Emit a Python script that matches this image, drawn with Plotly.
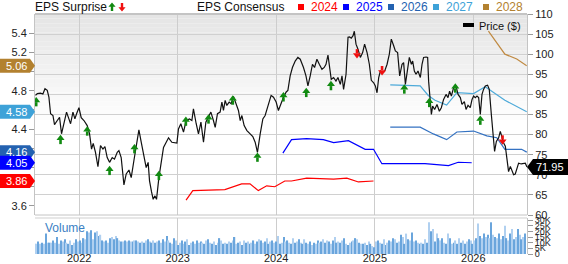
import numpy as np
import pandas as pd
import plotly.graph_objects as go

# ---------------- data ----------------
# price: time in decimal years, closing price in $
price_t = [2021.556, 2021.574, 2021.607, 2021.631, 2021.652, 2021.675, 2021.692, 2021.709, 2021.733, 2021.749,
           2021.777, 2021.800, 2021.820, 2021.845, 2021.871, 2021.895, 2021.912, 2021.936, 2021.956, 2021.973,
           2021.997, 2022.020, 2022.048, 2022.081, 2022.105, 2022.125, 2022.142, 2022.165, 2022.190, 2022.216,
           2022.241, 2022.261, 2022.284, 2022.308, 2022.335, 2022.358, 2022.386, 2022.403, 2022.426, 2022.454,
           2022.477, 2022.505, 2022.528, 2022.555, 2022.579, 2022.606, 2022.632, 2022.657, 2022.680, 2022.700,
           2022.714, 2022.734, 2022.751, 2022.769, 2022.785, 2022.809, 2022.827, 2022.856, 2022.907, 2022.941,
           2022.992, 2023.008, 2023.032, 2023.059, 2023.086, 2023.120, 2023.144, 2023.160, 2023.188, 2023.211,
           2023.236, 2023.262, 2023.286, 2023.313, 2023.337, 2023.363, 2023.381, 2023.404, 2023.431, 2023.449,
           2023.465, 2023.482, 2023.499, 2023.523, 2023.543, 2023.566, 2023.594, 2023.617, 2023.635, 2023.652,
           2023.675, 2023.703, 2023.736, 2023.763, 2023.787, 2023.810, 2023.838, 2023.865, 2023.888, 2023.922,
           2023.949, 2023.973, 2024.000, 2024.023, 2024.048, 2024.074, 2024.102, 2024.119, 2024.142, 2024.165,
           2024.193, 2024.220, 2024.244, 2024.277, 2024.302, 2024.322, 2024.345, 2024.368, 2024.389, 2024.413,
           2024.437, 2024.464, 2024.487, 2024.505, 2024.525, 2024.541, 2024.558, 2024.582, 2024.606, 2024.626,
           2024.650, 2024.667, 2024.683, 2024.708, 2024.728, 2024.744, 2024.761, 2024.779, 2024.792, 2024.809,
           2024.829, 2024.853, 2024.876, 2024.896, 2024.921, 2024.944, 2024.964, 2024.988, 2025.005, 2025.022,
           2025.039, 2025.056, 2025.079, 2025.099, 2025.124, 2025.147, 2025.167, 2025.191, 2025.208, 2025.231,
           2025.252, 2025.276, 2025.292, 2025.310, 2025.337, 2025.350, 2025.371, 2025.384, 2025.401, 2025.418,
           2025.438, 2025.462, 2025.479, 2025.495, 2025.520, 2025.536, 2025.546, 2025.563, 2025.574, 2025.587,
           2025.607, 2025.631, 2025.655, 2025.675, 2025.698, 2025.723, 2025.743, 2025.759, 2025.777, 2025.800,
           2025.824, 2025.845, 2025.868, 2025.885, 2025.909, 2025.926, 2025.946, 2025.969, 2025.987, 2026.003,
           2026.020, 2026.037, 2026.054, 2026.071, 2026.088, 2026.104, 2026.122, 2026.145, 2026.162, 2026.183,
           2026.200, 2026.216, 2026.234, 2026.257, 2026.274, 2026.291, 2026.308, 2026.325, 2026.342, 2026.358,
           2026.376, 2026.393, 2026.409, 2026.426, 2026.442, 2026.460, 2026.487, 2026.511, 2026.528, 2026.545]
price_v = [89.75, 90.2, 90.3, 90.1, 91.4, 91.0, 89.3, 85.2, 84.75, 82.5,
           83.5, 84.3, 80.2, 83.1, 85.6, 83.9, 82.7, 85.6, 83.9, 85.2,
           86.7, 84.2, 83.5, 82.25, 80.2, 76.4, 77.8, 75.6, 72.0, 77.25,
           76.4, 77.0, 74.3, 73.1, 74.3, 73.9, 75.6, 76.0, 74.3, 67.5,
           70.2, 71.2, 69.3, 73.5, 76.8, 81.2, 77.8, 74.3, 71.8, 73.1,
           68.5, 65.8, 63.9, 64.75, 63.9, 69.3, 72.0, 76.8, 79.2, 78.1,
           77.9, 81.4, 82.7, 80.6, 83.5, 83.9, 83.5, 86.4, 82.7, 80.2,
           83.1, 78.1, 83.1, 84.3, 85.6, 83.5, 81.8, 85.2, 85.6, 88.1,
           86.0, 88.5, 87.25, 88.1, 87.7, 89.5, 87.25, 86.0, 83.5, 84.75,
           82.25, 81.0, 80.2, 79.5, 78.1, 75.6, 80.2, 83.9, 84.75, 87.25,
           89.75, 89.3, 88.1, 86.0, 87.7, 89.3, 90.6, 91.0, 94.6, 96.7,
           98.3, 99.2, 98.75, 96.7, 94.6, 92.1, 94.6, 97.5, 96.7, 98.75,
           97.5, 96.25, 96.7, 97.5, 99.8, 97.1, 93.75, 94.2, 93.3, 94.2,
           92.5, 94.6, 91.25, 95.0, 104.2, 104.3, 104.0, 104.6, 105.7, 102.5,
           101.25, 99.2, 100.4, 102.5, 100.4, 97.5, 93.5, 92.9, 92.1, 90.4,
           94.2, 95.8, 95.4, 95.8, 97.5, 100.0, 103.75, 102.1, 100.8, 100.4,
           94.6, 97.5, 97.9, 92.5, 97.9, 99.2, 97.5, 98.3, 95.8, 95.0,
           95.8, 94.2, 97.5, 99.2, 99.3, 99.2, 93.3, 87.9, 85.0, 87.1,
           86.25, 87.5, 85.8, 86.7, 88.75, 90.0, 89.2, 90.8, 89.6, 91.7,
           92.1, 90.0, 89.2, 87.5, 88.2, 86.25, 87.3, 86.7, 88.75, 89.6,
           89.2, 89.6, 89.2, 85.0, 90.0, 91.25, 92.1, 92.3, 91.25, 85.0,
           80.0, 75.8, 78.3, 79.2, 80.8, 79.3, 77.9, 77.1, 74.2, 70.8,
           72.1, 70.8, 70.0, 70.2, 71.7, 72.9, 72.7, 72.9, 72.9, 71.95]

# EPS surprise arrows (decimal year, price level of the arrow)
surprise_pos_t = [2021.563, 2021.810, 2022.081, 2022.308, 2022.561, 2022.809, 2023.083, 2023.313, 2023.560,
                  2023.810, 2024.074, 2024.305, 2024.555, 2025.299, 2025.553, 2025.817, 2026.071]
surprise_pos_v = [88.1, 78.7, 80.8, 71.0, 76.4, 69.75, 83.25, 83.8, 88.5,
                  74.3, 89.3, 90.4, 92.1, 91.25, 87.9, 91.5, 83.5]
surprise_neg_t = [2024.819, 2025.073, 2026.297]
surprise_neg_v = [100.2, 96.0, 78.75]

# EPS consensus by fiscal year
cons_2024_d = ["2023-02-01", "2023-02-26", "2023-06-25", "2023-07-26", "2023-08-26", "2023-09-26", "2023-10-27",
               "2023-11-27", "2023-12-27", "2024-02-02", "2024-02-27", "2024-04-23", "2024-07-01", "2024-08-01",
               "2024-09-19", "2024-11-01", "2024-12-27"]
cons_2024_v = [3.66, 3.76, 3.77, 3.80, 3.83, 3.83, 3.76, 3.81, 3.80, 3.86, 3.86, 3.89, 3.88, 3.88, 3.89, 3.85, 3.86]
cons_2025_d = ["2024-01-26", "2024-02-27", "2024-04-23", "2024-06-24", "2024-08-01", "2024-09-25", "2024-11-26",
               "2024-12-27", "2025-01-27", "2025-04-23", "2025-07-06", "2025-10-01", "2025-11-06", "2025-12-26"]
cons_2025_v = [4.15, 4.29, 4.30, 4.29, 4.26, 4.28, 4.19, 4.19, 4.04, 4.04, 4.04, 4.02, 4.055, 4.05]
cons_2026_d = ["2025-02-27", "2025-06-18", "2025-08-06", "2025-09-24", "2025-11-01", "2026-01-02", "2026-02-20",
               "2026-03-29", "2026-04-28", "2026-06-29", "2026-07-18"]
cons_2026_v = [4.42, 4.42, 4.35, 4.29, 4.37, 4.38, 4.33, 4.31, 4.19, 4.19, 4.16]
cons_2027_d = ["2025-02-27", "2025-06-18", "2025-07-18", "2025-08-12", "2025-09-24", "2025-11-01", "2026-01-02",
               "2026-02-14", "2026-04-28", "2026-06-11", "2026-07-18"]
cons_2027_v = [4.86, 4.85, 4.75, 4.70, 4.65, 4.78, 4.77, 4.84, 4.70, 4.63, 4.58]
cons_2028_d = ["2026-02-26", "2026-04-28", "2026-06-11", "2026-07-18"]
cons_2028_v = [5.42, 5.18, 5.13, 5.06]

# weekly volume (thousands of shares), first week starting 2021-07-19
volume_start = "2021-07-19"
volume_k = [10, 9, 11, 9, 10, 9, 18, 10, 10, 10, 12, 10, 15, 9, 12, 11, 13, 10, 9, 12, 8, 10, 13, 11,
            12, 10, 14, 13, 20, 19, 21, 13, 19, 20, 16, 17, 12,
            11, 12, 10, 14, 15, 13, 16, 14, 12, 11, 11, 12, 11,
            12, 11, 11, 12, 12, 11, 10, 11, 10, 12, 13, 11, 10,
            12, 10, 11, 12, 10, 13, 11, 16, 12, 10, 9, 14, 12,
            8, 10, 12, 9, 11, 13, 8, 10, 11, 9, 12, 10, 11,
            10, 9, 12, 13, 10, 9, 11, 8, 10, 14, 12, 9, 10,
            9, 11, 10, 12, 15, 9, 10, 11, 8, 12, 10, 11, 9,
            10, 12, 9, 11, 13, 12, 10, 11, 14, 9, 11, 12, 10,
            11, 16, 9, 10, 15, 11, 12, 10, 9, 14, 10, 11, 13,
            10, 9, 13, 10, 9, 11, 8, 10, 9, 12, 10, 11, 13,
            10, 12, 11, 9, 12, 15, 10, 11, 10, 12, 14, 9, 8,
            10, 11, 12, 14, 13, 10, 9, 9, 10, 8, 11, 9, 7,
            6, 11, 12, 10, 9, 13, 8, 10, 12, 11, 14, 13, 10,
            11, 17, 15, 9, 18, 13, 12, 19, 11, 12, 10, 9, 10,
            9, 13, 10, 28, 20, 22, 11, 18, 14, 12, 14, 10, 9,
            18, 14, 9, 10, 12, 9, 14, 10, 12, 9, 11, 13, 12,
            9, 12, 14, 27, 16, 14, 18, 15, 17, 14, 28, 17, 15,
            14, 18, 13, 16, 25, 14, 12, 18, 22, 13, 15, 22, 17,
            13, 15, 18]

year_ticks = ["2022-01-01", "2023-01-01", "2024-01-01", "2025-01-01", "2026-01-01"]
vol_tickvals = [0, 5, 10, 15, 20, 25, 30]
vol_ticktext = ["0", "5K", "10K", "15K", "20K", "25K", "30K"]
eps_tickvals = [3.6, 3.8, 4.0, 4.2, 4.4, 4.6, 4.8, 5.0, 5.2, 5.4]

# ---------------- helpers ----------------
def to_date(t):
    y = int(np.floor(t))
    s = pd.Timestamp(y, 1, 1)
    e = pd.Timestamp(y + 1, 1, 1)
    return s + (e - s) * (t - y)

W, H = 568, 264
ML, MR, MT, MB = 35, 41, 14, 10
PW = W - ML - MR
PH = H - MT - MB
MAIN_BOTTOM_PX = 215
VOL_TOP_PX = 218
main_dom = [(H - MB - MAIN_BOTTOM_PX) / PH, 1]
vol_dom = [0, (H - MB - VOL_TOP_PX) / PH]
price_range = [60, 110]
eps_range = [3.506, 5.598]
px_per_dollar = (MAIN_BOTTOM_PX - MT) / (price_range[1] - price_range[0])
px_per_eps = (MAIN_BOTTOM_PX - MT) / (eps_range[1] - eps_range[0])

FONT = "Arial, Liberation Sans, sans-serif"
C2024, C2025, C2026, C2027, C2028 = "#ff0000", "#0000ff", "#2462b0", "#3ea2d8", "#b3812f"
LINE2026, LINE2027, LINE2028 = "#3472c2", "#4eaad9", "#c08a42"
GREEN, RED = "#118a11", "#f01010"

tag_series = [(cons_2028_v, C2028), (cons_2027_v, C2027), (cons_2026_v, C2026),
              (cons_2025_v, C2025), (cons_2024_v, C2024)]
# tick labels that sit under a value tag are hidden, like in the reference
eps_ticktext = []
for tv in eps_tickvals:
    covered = any(abs(tv - s[-1]) * px_per_eps < 8 for s, _ in tag_series)
    eps_ticktext.append("" if covered else f"{tv:.1f}")

fig = go.Figure()

# volume bars
vol_dates = pd.date_range(volume_start, periods=len(volume_k), freq="7D")
vol_colors = ["#b0d0f0" if i % 2 else "#6aa5dc" for i in range(len(volume_k))]
fig.add_trace(go.Bar(x=vol_dates, y=volume_k, marker=dict(color=vol_colors, line=dict(width=0)),
                     xaxis="x", yaxis="y3", hoverinfo="skip", showlegend=False))

# consensus lines (left EPS axis)
for d, v, c in [(cons_2024_d, cons_2024_v, C2024), (cons_2025_d, cons_2025_v, C2025),
                (cons_2026_d, cons_2026_v, LINE2026), (cons_2027_d, cons_2027_v, LINE2027),
                (cons_2028_d, cons_2028_v, LINE2028)]:
    fig.add_trace(go.Scatter(x=d, y=v, mode="lines", line=dict(color=c, width=1.2),
                             xaxis="x", yaxis="y", showlegend=False, hoverinfo="skip"))

# price line (right axis)
price_dates = [to_date(t) for t in price_t]
fig.add_trace(go.Scatter(x=price_dates, y=price_v, mode="lines", line=dict(color="#111111", width=1.2),
                         xaxis="x", yaxis="y2", showlegend=False))

# surprise arrows: head + stem
pos_d = [to_date(t) for t in surprise_pos_t]
neg_d = [to_date(t) for t in surprise_neg_t]
up_head = [v + 1.6 / px_per_dollar for v in surprise_pos_v]
up_stem = [v - 2.2 / px_per_dollar for v in surprise_pos_v]
fig.add_trace(go.Scatter(x=pos_d, y=up_stem, mode="markers", xaxis="x", yaxis="y2", showlegend=False,
                         marker=dict(symbol="line-ns", size=3, line=dict(width=2.6, color=GREEN))))
fig.add_trace(go.Scatter(x=pos_d, y=up_head, mode="markers", xaxis="x", yaxis="y2", showlegend=False,
                         marker=dict(symbol="triangle-up", size=7, color=GREEN, line=dict(width=0))))
dn_head = [v - 1.6 / px_per_dollar for v in surprise_neg_v]
dn_stem = [v + 2.2 / px_per_dollar for v in surprise_neg_v]
fig.add_trace(go.Scatter(x=neg_d, y=dn_stem, mode="markers", xaxis="x", yaxis="y2", showlegend=False,
                         marker=dict(symbol="line-ns", size=3, line=dict(width=2.6, color=RED))))
fig.add_trace(go.Scatter(x=neg_d, y=dn_head, mode="markers", xaxis="x", yaxis="y2", showlegend=False,
                         marker=dict(symbol="triangle-down", size=7, color=RED, line=dict(width=0))))

shapes = []
annotations = []

# gradient background in the price pane
nb = 24
for i in range(nb):
    g = int(229 + (255 - 229) * i / (nb - 1))
    col = f"rgb({g},{g},{g})"
    shapes.append(dict(type="rect", xref="paper", yref="y domain", x0=0, x1=1,
                       y0=1 - (i + 1) * 0.55 / nb, y1=1 - i * 0.55 / nb,
                       fillcolor=col, line=dict(width=0), layer="below"))
# borders
shapes.append(dict(type="line", xref="paper", yref="y domain", x0=0, x1=1, y0=1, y1=1,
                   line=dict(color="#c4c4c4", width=2)))
shapes.append(dict(type="line", xref="paper", yref="y domain", x0=0, x1=1, y0=0, y1=0,
                   line=dict(color="#c4c4c4", width=1)))
shapes.append(dict(type="line", xref="paper", yref="y3 domain", x0=0, x1=1, y0=1, y1=1,
                   line=dict(color="#cfcfcf", width=1)))

# left consensus value tags
for vals, c in tag_series:
    val = vals[-1]
    shapes.append(dict(type="path", xref="paper", yref="y", xsizemode="pixel", ysizemode="pixel",
                       xanchor=0, yanchor=val, path="M-35,-7 L-5,-7 L0,0 L-5,7 L-35,7 Z",
                       fillcolor=c, line=dict(width=0), layer="above"))
    annotations.append(dict(xref="paper", yref="y", x=0, y=val, xshift=-19, xanchor="center",
                            yanchor="middle", text=f"{val:.2f}", showarrow=False,
                            font=dict(family=FONT, size=11, color="white")))

# last price tag on the right
last_price = price_v[-1]
shapes.append(dict(type="path", xref="paper", yref="y2", xsizemode="pixel", ysizemode="pixel",
                   xanchor=1, yanchor=last_price, path="M0,0 L6,-8 L41,-8 L41,8 L6,8 Z",
                   fillcolor="#000000", line=dict(width=0), layer="above"))
annotations.append(dict(xref="paper", yref="y2", x=1, y=last_price, xshift=23, xanchor="center",
                        yanchor="middle", text=f"{last_price:.2f}", showarrow=False,
                        font=dict(family=FONT, size=11, color="white")))

def arrow_path(cx, cy, up=True):
    s = 1 if up else -1
    pts = [(cx - 1.2, cy - 4 * s), (cx - 1.2, cy + 0.3 * s), (cx - 3.6, cy + 0.3 * s), (cx, cy + 4.6 * s),
           (cx + 3.6, cy + 0.3 * s), (cx + 1.2, cy + 0.3 * s), (cx + 1.2, cy - 4 * s)]
    return "M" + " L".join(f"{x:.1f},{y:.1f}" for x, y in pts) + " Z"

# top legend: EPS Surprise
annotations.append(dict(xref="paper", yref="paper", x=0, y=1, xanchor="left", yanchor="middle", yshift=7,
                        xshift=-2, text="EPS Surprise", showarrow=False, font=dict(family=FONT, size=12, color="#111")))
shapes.append(dict(type="path", xref="paper", yref="paper", xsizemode="pixel", ysizemode="pixel",
                   xanchor=0, yanchor=1, path=arrow_path(77, 7, True), fillcolor=GREEN, line=dict(width=0)))
shapes.append(dict(type="path", xref="paper", yref="paper", xsizemode="pixel", ysizemode="pixel",
                   xanchor=0, yanchor=1, path=arrow_path(87, 7, False), fillcolor=RED, line=dict(width=0)))

# top legend: EPS Consensus
annotations.append(dict(xref="paper", yref="paper", x=(197 - ML) / PW, y=1, xanchor="left", yanchor="middle",
                        yshift=7, xshift=-2, text="EPS Consensus", showarrow=False,
                        font=dict(family=FONT, size=12, color="#111")))
for label, c, tx in [("2024", C2024, 311), ("2025", C2025, 356), ("2026", C2026, 401),
                     ("2027", C2027, 446), ("2028", C2028, 496)]:
    shapes.append(dict(type="rect", xref="paper", yref="paper", xsizemode="pixel", ysizemode="pixel",
                       xanchor=0, yanchor=1, x0=tx - 13 - ML, x1=tx - 7 - ML, y0=4, y1=10,
                       fillcolor=c, line=dict(width=0)))
    annotations.append(dict(xref="paper", yref="paper", x=(tx - ML) / PW, y=1, xanchor="left",
                            yanchor="middle", yshift=7, xshift=-2, text=label, showarrow=False,
                            font=dict(family=FONT, size=12, color=c)))

# price legend
shapes.append(dict(type="rect", xref="paper", yref="paper", xsizemode="pixel", ysizemode="pixel",
                   xanchor=0, yanchor=1, x0=463 - ML, x1=474 - ML, y0=-9, y1=-13,
                   fillcolor="#000000", line=dict(width=0)))
annotations.append(dict(xref="paper", yref="paper", x=(479 - ML) / PW, y=1, xanchor="left", yanchor="middle",
                        yshift=-12, xshift=-2, text="Price ($)", showarrow=False,
                        font=dict(family=FONT, size=11, color="#111")))

# volume label
annotations.append(dict(xref="paper", yref="y3 domain", x=(45 - ML) / PW, y=1, xanchor="left", yanchor="middle",
                        yshift=-10, xshift=-2, text="Volume", showarrow=False,
                        font=dict(family=FONT, size=12, color="#3b7fc4")))

axis_font = dict(family=FONT, size=11, color="#222")
fig.update_layout(
    width=W, height=H, margin=dict(l=ML, r=MR, t=MT, b=MB, autoexpand=False),
    paper_bgcolor="white", plot_bgcolor="white", bargap=0.35,
    showlegend=False, shapes=shapes, annotations=annotations,
    xaxis=dict(type="date", anchor="y3", range=["2021-07-21", "2026-07-19"], automargin=False,
               tickvals=year_ticks, tickformat="%Y", showgrid=True, gridcolor="#cdcdcd", gridwidth=1,
               ticks="", showline=False, zeroline=False, ticklabelstandoff=-4,
               tickfont=dict(family=FONT, size=11, color="#222")),
    yaxis=dict(domain=main_dom, range=eps_range, side="left", tickvals=eps_tickvals, ticktext=eps_ticktext,
               ticks="outside", ticklen=5, tickcolor="#9a9a9a", showline=True, linecolor="#c4c4c4",
               showgrid=False, zeroline=False, tickfont=axis_font, automargin=False),
    yaxis2=dict(overlaying="y", side="right", anchor="x", range=price_range, dtick=5, automargin=False,
                showgrid=True, gridcolor="#d0d0d0", ticks="outside", ticklen=5, tickcolor="#9a9a9a",
                showline=True, linecolor="#c4c4c4", zeroline=False, tickfont=axis_font),
    yaxis3=dict(domain=vol_dom, anchor="x", side="right", range=[0, 31.8], tickvals=vol_tickvals,
                ticktext=vol_ticktext, ticks="outside", ticklen=5, tickcolor="#9a9a9a", automargin=False,
                showline=True, linecolor="#c4c4c4", showgrid=False, zeroline=False,
                tickfont=dict(family=FONT, size=9, color="#222")),
)

fig.write_html("out.html")
